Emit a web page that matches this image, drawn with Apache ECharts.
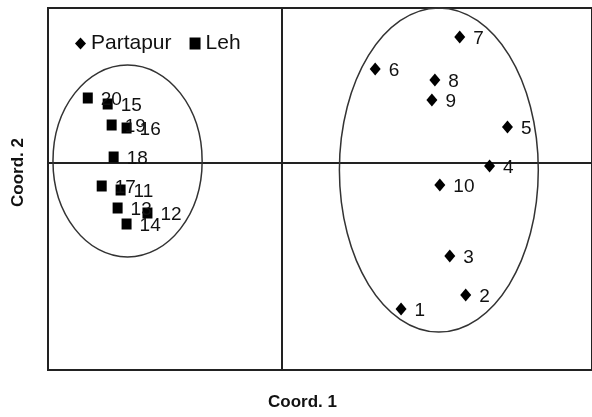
<!DOCTYPE html>
<html>
<head>
<meta charset="utf-8">
<script src="https://cdn.jsdelivr.net/npm/echarts@6/dist/echarts.min.js"></script>
<style>
  html, body { margin: 0; padding: 0; background: #fff; }
  #app { width: 592px; height: 417px; }
</style>
</head>
<body>
<div id="app"></div>
<script>
// Partapur accessions (diamonds)
const partapurIds = ["1", "2", "3", "4", "5", "6", "7", "8", "9", "10"];
const partapurX = [1.20, 1.85, 1.69, 2.09, 2.27, 0.94, 1.79, 1.54, 1.51, 1.59];
const partapurY = [-1.46, -1.32, -0.93, -0.03, 0.36, 0.94, 1.26, 0.83, 0.63, -0.22];

// Leh accessions (squares)
const lehIds = ["11", "12", "13", "14", "15", "16", "17", "18", "19", "20"];
const lehX = [-1.62, -1.35, -1.65, -1.56, -1.75, -1.56, -1.81, -1.69, -1.71, -1.95];
const lehY = [-0.27, -0.50, -0.45, -0.61, 0.59, 0.35, -0.23, 0.06, 0.38, 0.65];

// grouping ellipses: centre x, centre y, radius x, radius y
const groupEllipses = [
  [-1.55, 0.02, 0.75, 0.96],
  [1.58, -0.07, 1.00, 1.62]
];

const FONT = "'Liberation Sans Narrow', 'Liberation Sans', Arial, sans-serif";

function toPoints(xs, ys, ids) {
  return xs.map((x, i) => ({ name: ids[i], value: [x, ys[i]] }));
}

function pointSeries(name, symbol, size, data) {
  return {
    name,
    type: "scatter",
    symbol,
    symbolSize: size,
    itemStyle: { color: "#000", opacity: 1 },
    label: {
      show: true,
      position: "right",
      distance: 8,
      offset: [0, 2],
      formatter: p => p.name,
      color: "#111",
      fontFamily: FONT,
      fontSize: 19
    },
    emphasis: { disabled: true },
    data,
    z: 3
  };
}

var chart = echarts.init(document.getElementById("app"));
chart.setOption({
  backgroundColor: "#fff",
  animation: false,
  grid: {
    show: true,
    left: 48,
    top: 8,
    right: -3,
    bottom: 47,
    borderColor: "#222",
    borderWidth: 2
  },
  legend: {
    left: 70,
    top: 28,
    itemWidth: 11,
    itemHeight: 12,
    itemGap: 18,
    textStyle: { fontFamily: FONT, fontSize: 21, color: "#111" },
    data: [
      { name: "Partapur", icon: "diamond" },
      { name: "Leh", icon: "rect" }
    ]
  },
  xAxis: {
    type: "value",
    min: -2.35,
    max: 3.12,
    axisLine: { onZero: true, lineStyle: { color: "#222", width: 2 } },
    axisTick: { show: false },
    axisLabel: { show: false },
    splitLine: { show: false }
  },
  yAxis: {
    type: "value",
    min: -2.07,
    max: 1.55,
    axisLine: { onZero: true, lineStyle: { color: "#222", width: 2 } },
    axisTick: { show: false },
    axisLabel: { show: false },
    splitLine: { show: false }
  },
  graphic: [
    {
      type: "text",
      left: 268,
      top: 394,
      style: { text: "Coord. 1", font: "bold 17px " + FONT, fill: "#111" }
    },
    {
      type: "text",
      x: 10,
      y: 207,
      rotation: Math.PI / 2,
      style: { text: "Coord. 2", font: "bold 17px " + FONT, fill: "#111" }
    }
  ],
  series: [
    {
      type: "custom",
      silent: true,
      z: 1,
      data: groupEllipses,
      renderItem: (params, api) => {
        const c = api.coord([api.value(0), api.value(1)]);
        const s = api.size([api.value(2), api.value(3)]);
        return {
          type: "ellipse",
          shape: { cx: c[0], cy: c[1], rx: s[0], ry: s[1] },
          style: { fill: "none", stroke: "#333", lineWidth: 1.5 }
        };
      }
    },
    pointSeries("Partapur", "diamond", [11, 13], toPoints(partapurX, partapurY, partapurIds)),
    pointSeries("Leh", "rect", [10, 11], toPoints(lehX, lehY, lehIds))
  ]
});
</script>
</body>
</html>
